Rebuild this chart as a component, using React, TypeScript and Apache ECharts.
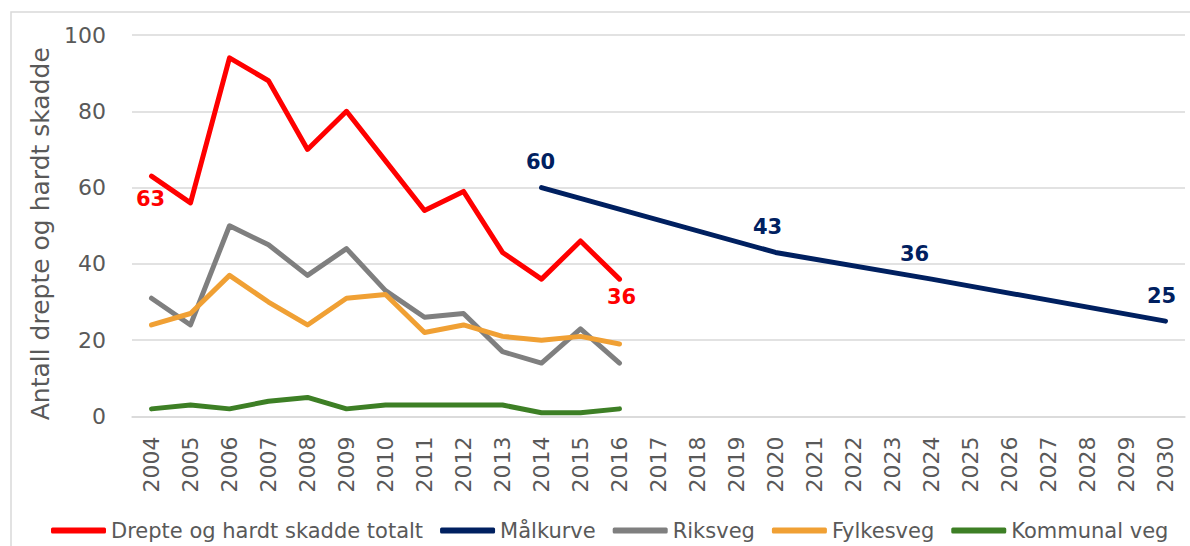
import React, { useEffect, useRef } from "react";
import * as echarts from "echarts";

const years = [
  "2004", "2005", "2006", "2007", "2008", "2009", "2010", "2011", "2012",
  "2013", "2014", "2015", "2016", "2017", "2018", "2019", "2020", "2021",
  "2022", "2023", "2024", "2025", "2026", "2027", "2028", "2029", "2030",
];
const totalt = [63, 56, 94, 88, 70, 80, 67, 54, 59, 43, 36, 46, 36];
const maalkurve: (number | null)[] = [
  null, null, null, null, null, null, null, null, null, null,
  60, null, null, null, null, null, 43, null, null, null,
  36, null, null, null, null, null, 25,
];
const riksveg = [31, 24, 50, 45, 37, 44, 33, 26, 27, 17, 14, 23, 14];
const fylkesveg = [24, 27, 37, 30, 24, 31, 32, 22, 24, 21, 20, 21, 19];
const kommunal = [2, 3, 2, 4, 5, 2, 3, 3, 3, 3, 1, 1, 2];
const yTicks = { min: 0, max: 100, interval: 20 };

const FONT = "DejaVu Sans";
const GREY_TEXT = "#595959";
const RED = "#FF0000";
const NAVY = "#002060";

export default function App() {
  const ref = useRef<HTMLDivElement>(null);
  useEffect(() => {
    document.body.style.margin = "0";
    if (!ref.current) return;
    const chart = echarts.init(ref.current, null, { renderer: "svg" });

    const redLast = totalt.length - 1;
    const totalData = totalt.map((v, i) => {
      if (i === 0)
        return { value: v, label: { show: true, position: "bottom", distance: 12, offset: [-1, 0] } };
      if (i === redLast)
        return { value: v, label: { show: true, position: "bottom", distance: 7, offset: [2, 0] } };
      return v;
    });
    const navyOffsets: Record<number, number[]> = { 10: [-1, 0], 16: [-8, 0], 20: [-17, 0], 26: [-4, 0] };
    const maalData = maalkurve.map((v, i) =>
      v === null ? null : { value: v, label: { offset: navyOffsets[i] || [0, 0] } }
    );

    const lineBase = {
      type: "line",
      symbol: "circle",
      symbolSize: 0.1,
      showSymbol: true,
      lineStyle: { width: 5, cap: "round", join: "round" },
    };

    chart.setOption({
      animation: false,
      backgroundColor: "#ffffff",
      textStyle: { fontFamily: FONT },
      graphic: [
        {
          type: "rect",
          shape: { x: 11, y: 12, width: 1200, height: 560 },
          style: { fill: "none", stroke: "#d9d9d9", lineWidth: 1.5 },
          silent: true,
          z: -10,
        },
      ],
      grid: { left: 132, right: 5, top: 35, bottom: 129.5, containLabel: false },
      xAxis: {
        type: "category",
        data: years,
        boundaryGap: true,
        axisLine: { show: true, lineStyle: { color: "#d9d9d9", width: 1.5 } },
        axisTick: { show: false },
        axisLabel: {
          rotate: 90,
          margin: 20,
          fontSize: 22,
          fontFamily: FONT,
          color: GREY_TEXT,
          interval: 0,
        },
      },
      yAxis: {
        type: "value",
        min: yTicks.min,
        max: yTicks.max,
        interval: yTicks.interval,
        name: "Antall drepte og hardt skadde",
        nameLocation: "middle",
        nameGap: 71,
        nameRotate: 90,
        nameTextStyle: { fontSize: 25, fontFamily: FONT, color: GREY_TEXT, padding: [0, 16, 0, 0] },
        axisLine: { show: false },
        axisTick: { show: false },
        axisLabel: { margin: 26, fontSize: 22, fontFamily: FONT, color: GREY_TEXT },
        splitLine: { lineStyle: { color: "#d9d9d9", width: 1.5 } },
      },
      legend: {
        top: 515,
        left: 46,
        icon: "roundRect",
        itemWidth: 55,
        itemHeight: 6,
        itemGap: 17,
        textStyle: { fontSize: 21, fontFamily: FONT, color: GREY_TEXT },
        data: ["Drepte og hardt skadde totalt", "Målkurve", "Riksveg", "Fylkesveg", "Kommunal veg"],
      },
      series: [
        {
          ...lineBase,
          name: "Kommunal veg",
          data: kommunal,
          color: "#3D7F25",
          lineStyle: { ...lineBase.lineStyle, color: "#3D7F25" },
          z: 2,
        },
        {
          ...lineBase,
          name: "Riksveg",
          data: riksveg,
          color: "#7F7F7F",
          lineStyle: { ...lineBase.lineStyle, color: "#7F7F7F" },
          z: 3,
        },
        {
          ...lineBase,
          name: "Fylkesveg",
          data: fylkesveg,
          color: "#F0A034",
          lineStyle: { ...lineBase.lineStyle, color: "#F0A034" },
          z: 4,
        },
        {
          ...lineBase,
          name: "Målkurve",
          data: maalData,
          connectNulls: true,
          color: NAVY,
          lineStyle: { ...lineBase.lineStyle, color: NAVY },
          label: {
            show: true,
            position: "top",
            distance: 15,
            fontSize: 21,
            fontWeight: "bold",
            fontFamily: FONT,
            color: NAVY,
          },
          z: 5,
        },
        {
          ...lineBase,
          name: "Drepte og hardt skadde totalt",
          data: totalData,
          color: RED,
          lineStyle: { ...lineBase.lineStyle, color: RED },
          label: {
            show: false,
            fontSize: 21,
            fontWeight: "bold",
            fontFamily: FONT,
            color: RED,
          },
          z: 6,
        },
      ],
    });
    return () => chart.dispose();
  }, []);
  return <div ref={ref} style={{ width: 1190, height: 546 }} />;
}
